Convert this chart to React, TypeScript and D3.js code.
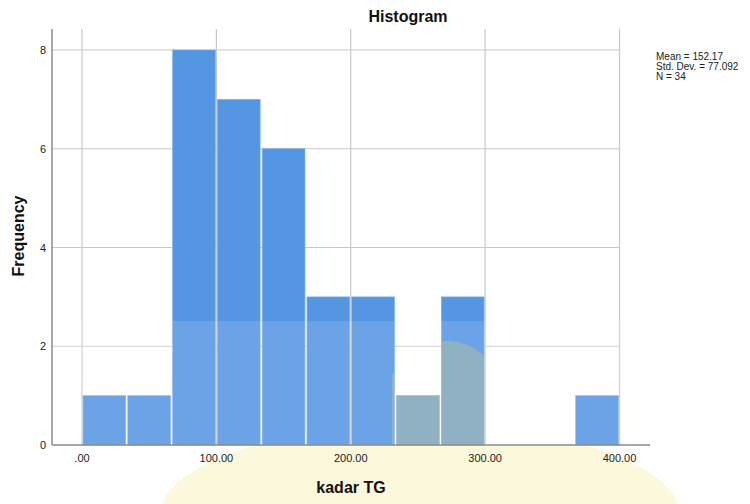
import React from "react";
import * as d3 from "d3";

const binLower = [0, 33.33, 66.67, 100, 133.33, 166.67, 200, 233.33, 266.67, 300, 333.33, 366.67];
const binUpper = [33.33, 66.67, 100, 133.33, 166.67, 200, 233.33, 266.67, 300, 333.33, 366.67, 400];
const counts = [1, 1, 8, 7, 6, 3, 3, 1, 3, 0, 0, 1];
const xTicks = [0, 100, 200, 300, 400];
const xTickLabels = [".00", "100.00", "200.00", "300.00", "400.00"];
const yTicks = [0, 2, 4, 6, 8];
const statLines = ["Mean = 152.17", "Std. Dev. = 77.092", "N = 34"];

const W = 750;
const H = 504;
const plotLeft = 52;
const plotTop = 29;
const plotBottom = 445;
const axisRight = 650;
const gridRight = 620;

export default function App() {
  const x = d3.scaleLinear().domain([0, 400]).range([82, 619.5]);
  const y = d3.scaleLinear().domain([0, 8]).range([plotBottom, 50]);
  const font = "Arial, 'Liberation Sans', sans-serif";

  const barRects = counts.map((c, i) => ({
    key: i,
    c,
    x: x(binLower[i]) + 1,
    y: y(c),
    w: x(binUpper[i]) - x(binLower[i]) - 2,
    h: y(0) - y(c),
  }));

  return (
    <svg
      width={W}
      height={H}
      style={{ position: "absolute", left: 0, top: 0, background: "#fff" }}
      fontFamily={font}
    >
      <defs>
        <clipPath id="belowAxis">
          <rect x={0} y={plotBottom + 1} width={W} height={H - plotBottom} />
        </clipPath>
        <clipPath id="barsClip">
          {barRects
            .filter((b) => b.c > 0)
            .map((b) => (
              <rect key={"cb" + b.key} x={b.x} y={b.y} width={b.w} height={b.h} />
            ))}
        </clipPath>
      </defs>
      <rect x={0} y={0} width={W} height={H} fill="#ffffff" />
      {/* pale watermark tint below the axis */}
      <g clipPath="url(#belowAxis)">
        <ellipse cx={420} cy={515} rx={260} ry={90} fill="#fcf8dc" />
      </g>
      {/* horizontal grid */}
      {yTicks
        .filter((t) => t > 0)
        .map((t) => (
          <line key={"hg" + t} x1={plotLeft} x2={gridRight} y1={y(t)} y2={y(t)} stroke="#c9c9c9" strokeWidth={1.2} />
        ))}
      {/* vertical grid */}
      {xTicks.map((t) => (
        <line key={"vg" + t} x1={x(t)} x2={x(t)} y1={plotTop} y2={plotBottom} stroke="#c9c9c9" strokeWidth={1.2} />
      ))}
      {/* bars */}
      {barRects.map((b) =>
        b.c > 0 ? (
          <rect
            key={"b" + b.key}
            x={b.x}
            y={b.y}
            width={b.w}
            height={b.h}
            fill="#5596e3"
            stroke="#7fb0ea"
            strokeWidth={0.6}
          />
        ) : null
      )}
      {/* watermark-like tint over the lower part of the plot */}
      <rect x={plotLeft} y={321} width={gridRight - plotLeft} height={plotBottom - 321} fill="#ffffff" opacity={0.13} />
      <g clipPath="url(#barsClip)">
        <path d="M 392 445 L 392 375 Q 440 315 490 360 L 490 445 Z" fill="#d8cc80" opacity={0.35} />
      </g>
      {/* axes */}
      <line x1={plotLeft} x2={plotLeft} y1={plotTop} y2={plotBottom} stroke="#7a7a7a" strokeWidth={1.3} />
      <line x1={plotLeft} x2={axisRight} y1={plotBottom} y2={plotBottom} stroke="#8a8a8a" strokeWidth={1.3} />
      {/* y tick labels */}
      {yTicks.map((t) => (
        <text key={"yt" + t} x={46} y={y(t) + 4} textAnchor="end" fontSize={11} fill="#222">
          {t}
        </text>
      ))}
      {/* x tick labels */}
      {xTicks.map((t, i) => (
        <text key={"xt" + t} x={x(t)} y={462} textAnchor="middle" fontSize={11} fill="#222">
          {xTickLabels[i]}
        </text>
      ))}
      {/* titles */}
      <text x={408} y={22} textAnchor="middle" fontSize={16} fontWeight="bold" fill="#111">
        Histogram
      </text>
      <text x={351} y={493} textAnchor="middle" fontSize={16} fontWeight="bold" fill="#111">
        kadar TG
      </text>
      <text
        transform={`translate(24, 236) rotate(-90)`}
        textAnchor="middle"
        fontSize={16}
        fontWeight="bold"
        fill="#111"
      >
        Frequency
      </text>
      {statLines.map((s, i) => (
        <text key={"s" + i} x={656} y={60 + i * 10} fontSize={10} fill="#222">
          {s}
        </text>
      ))}
    </svg>
  );
}
